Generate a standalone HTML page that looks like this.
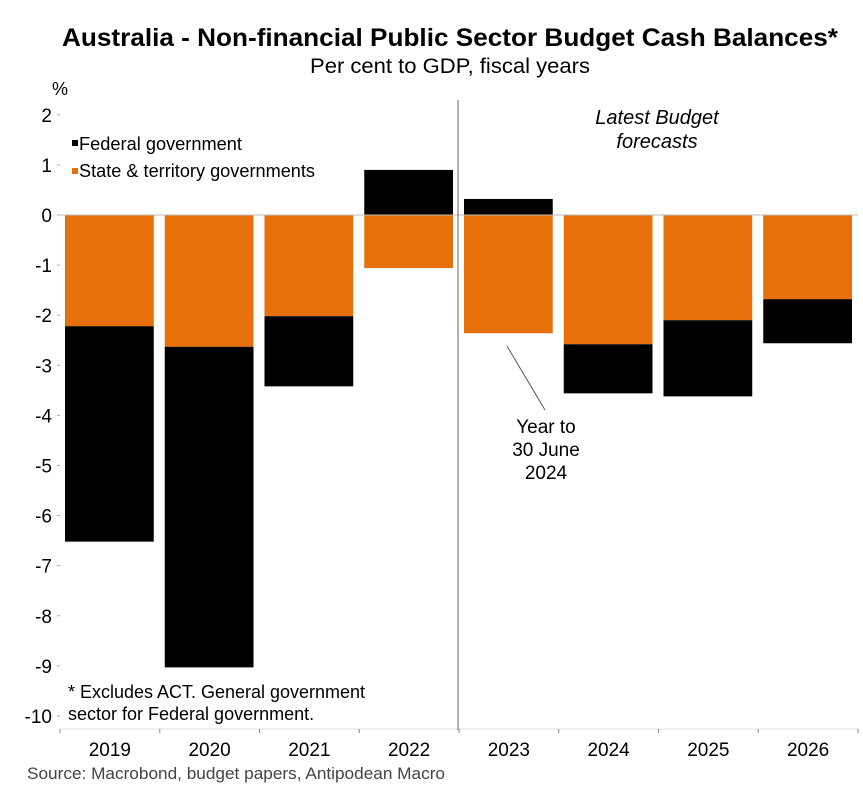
<!DOCTYPE html>
<html><head><meta charset="utf-8"><style>
body{margin:0;background:#fff;font-family:"Liberation Sans",sans-serif;}
</style></head><body>
<svg width="863" height="793" xmlns="http://www.w3.org/2000/svg" font-family="Liberation Sans, sans-serif">
<text x="450" y="46" text-anchor="middle" font-size="25" font-weight="bold" textLength="776" lengthAdjust="spacingAndGlyphs">Australia - Non-financial Public Sector Budget Cash Balances*</text>
<text x="450" y="73" text-anchor="middle" font-size="21" textLength="280" lengthAdjust="spacingAndGlyphs">Per cent to GDP, fiscal years</text>
<text x="52" y="95" font-size="18">%</text>
<g id="yaxis"></g>
<g id="bars"></g>
<g id="xaxis"></g>
<line x1="458" y1="100" x2="458" y2="730" stroke="#666" stroke-width="1"/>
<text x="657" y="124" text-anchor="middle" font-size="20" font-style="italic">Latest Budget</text>
<text x="657" y="148" text-anchor="middle" font-size="20" font-style="italic">forecasts</text>
<rect x="72" y="140" width="6" height="6" fill="#000"/>
<text x="79" y="150" font-size="18" textLength="163" lengthAdjust="spacingAndGlyphs">Federal government</text>
<rect x="72" y="168" width="6" height="6" fill="#e8700a"/>
<text x="79" y="177" font-size="18" textLength="236" lengthAdjust="spacingAndGlyphs">State &amp; territory governments</text>
<line x1="507" y1="346" x2="545" y2="410" stroke="#555" stroke-width="1"/>
<text x="546" y="433" text-anchor="middle" font-size="19">Year to</text>
<text x="546" y="456" text-anchor="middle" font-size="19">30 June</text>
<text x="546" y="479" text-anchor="middle" font-size="19">2024</text>
<text x="68" y="698" font-size="18" textLength="297" lengthAdjust="spacingAndGlyphs">* Excludes ACT. General government</text>
<text x="68" y="720" font-size="18">sector for Federal government.</text>
<text x="27" y="779" font-size="17" fill="#444" textLength="418" lengthAdjust="spacingAndGlyphs">Source: Macrobond, budget papers, Antipodean Macro</text>
</svg>
<script>
const categories=["2019","2020","2021","2022","2023","2024","2025","2026"];
const federal=[-4.3,-6.4,-1.4,0.9,0.32,-0.98,-1.52,-0.88];
const state=[-2.22,-2.63,-2.02,-1.06,-2.36,-2.58,-2.1,-1.68];
const yTicks=[2,1,0,-1,-2,-3,-4,-5,-6,-7,-8,-9,-10];
const NS="http://www.w3.org/2000/svg";
const x0=60,x1=858,band=(x1-x0)/categories.length;
const y=v=>215-v*50.1;
const xs=i=>x0+i*band;
function mk(tag,attrs,parent){const e=document.createElementNS(NS,tag);for(const k in attrs)e.setAttribute(k,attrs[k]);document.getElementById(parent).appendChild(e);return e;}
yTicks.forEach(t=>{
 const tx=mk('text',{x:52,y:y(t)+7,'text-anchor':'end','font-size':19},'yaxis');
 
 
 tx.textContent=t;
 const tk=mk('line',{x1:57,x2:60,y1:y(t),y2:y(t),stroke:'#aaa'},'yaxis');
 
 
});
categories.forEach((c,i)=>{
 const bx=xs(i)+5,bw=band-11;
 let pos=0,neg=0;
 [[state[i],'#e8700a','state'],[federal[i],'#000','federal']].forEach(([v,col,nm])=>{
  let top,bot;
  if(v>=0){top=pos+v;bot=pos;pos=top;}else{top=neg;bot=neg+v;neg=bot;}
  const r=mk('rect',{x:bx,y:y(top),width:bw,height:y(bot)-y(top),fill:col},'bars');
  
  
 });
 const t=mk('text',{x:xs(i)+band/2,y:756,'text-anchor':'middle','font-size':19},'xaxis');
 
 
 t.textContent=c;
});
const z=mk('line',{x1:x0,x2:x1,y1:y(0),y2:y(0),stroke:'#bbb'},'bars');


const ax=mk('line',{x1:x0,x2:x1,y1:729,y2:729,stroke:'#ddd'},'xaxis');


for(let i=0;i<=categories.length;i++){
 const tk=mk('line',{x1:xs(i),x2:xs(i),y1:729,y2:733,stroke:'#888'},'xaxis');
 
 
}
</script>
</body></html>
